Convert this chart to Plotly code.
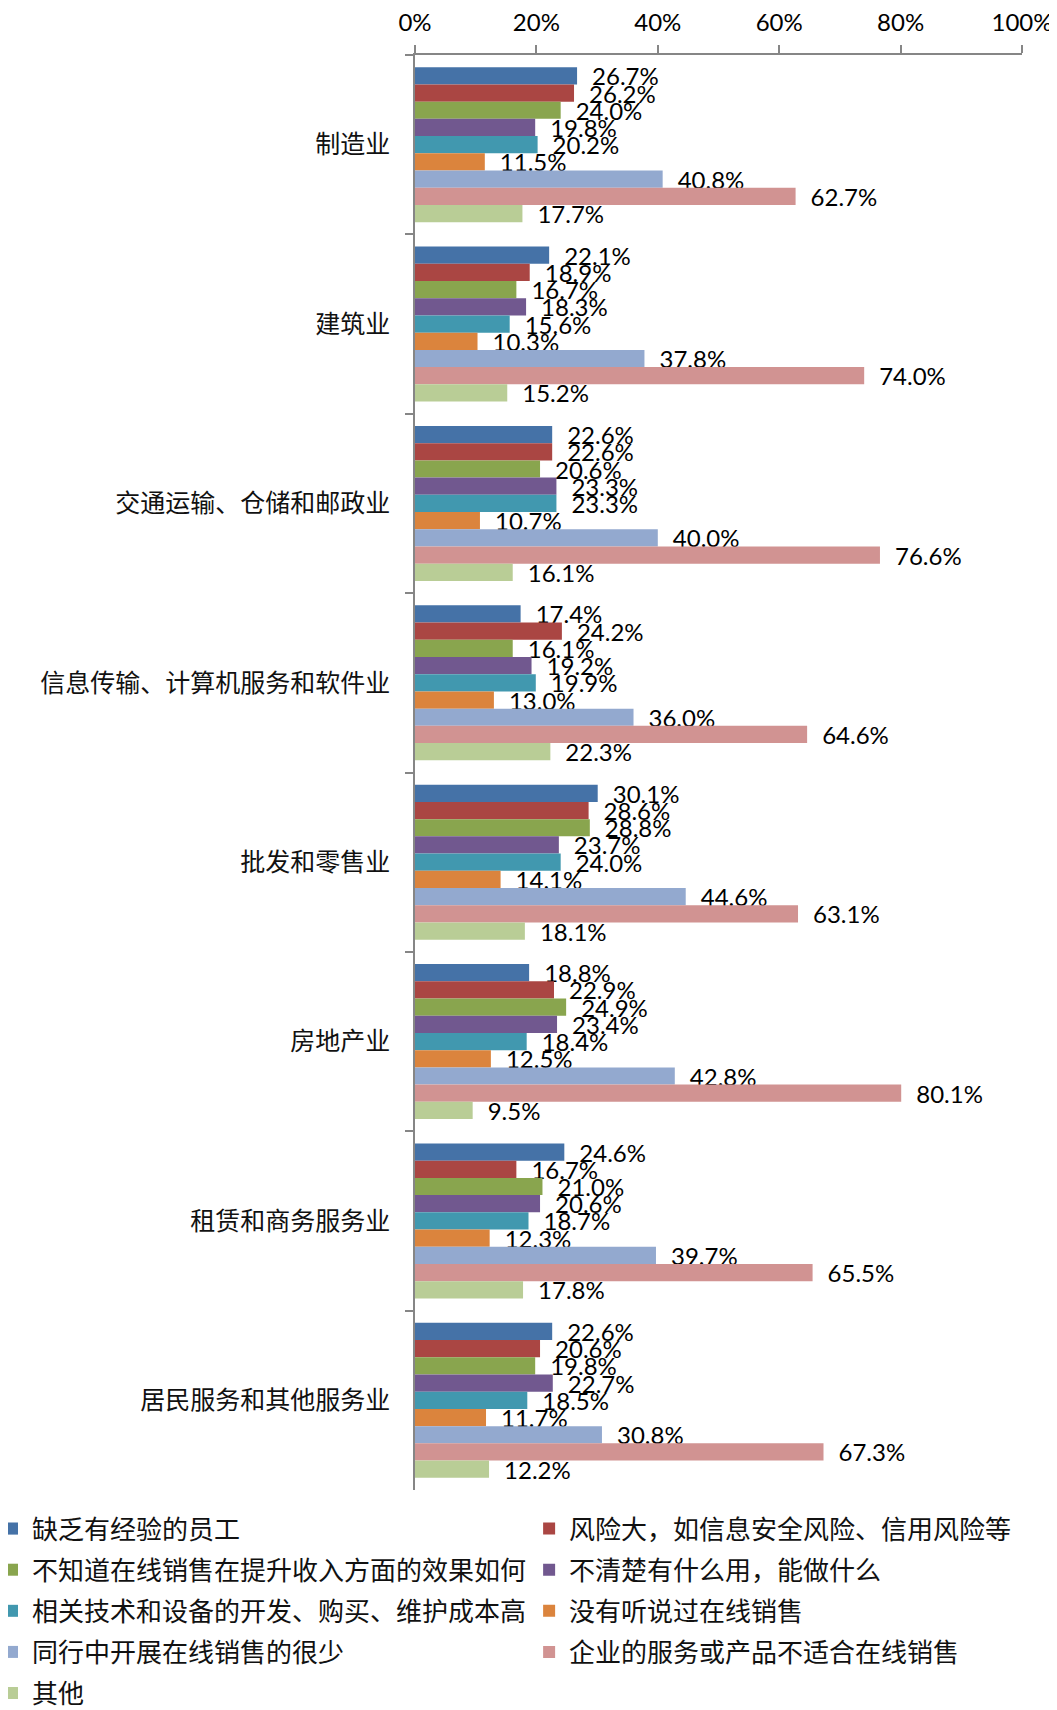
import plotly.graph_objects as go

categories = ["制造业", "建筑业", "交通运输、仓储和邮政业", "信息传输、计算机服务和软件业",
              "批发和零售业", "房地产业", "租赁和商务服务业", "居民服务和其他服务业"]

series_names = ["缺乏有经验的员工", "风险大，如信息安全风险、信用风险等",
                "不知道在线销售在提升收入方面的效果如何", "不清楚有什么用，能做什么",
                "相关技术和设备的开发、购买、维护成本高", "没有听说过在线销售",
                "同行中开展在线销售的很少", "企业的服务或产品不适合在线销售", "其他"]

s_staff = [26.7, 22.1, 22.6, 17.4, 30.1, 18.8, 24.6, 22.6]
s_risk = [26.2, 18.9, 22.6, 24.2, 28.6, 22.9, 16.7, 20.6]
s_effect = [24.0, 16.7, 20.6, 16.1, 28.8, 24.9, 21.0, 19.8]
s_usage = [19.8, 18.3, 23.3, 19.2, 23.7, 23.4, 20.6, 22.7]
s_cost = [20.2, 15.6, 23.3, 19.9, 24.0, 18.4, 18.7, 18.5]
s_never = [11.5, 10.3, 10.7, 13.0, 14.1, 12.5, 12.3, 11.7]
s_peers = [40.8, 37.8, 40.0, 36.0, 44.6, 42.8, 39.7, 30.8]
s_unfit = [62.7, 74.0, 76.6, 64.6, 63.1, 80.1, 65.5, 67.3]
s_other = [17.7, 15.2, 16.1, 22.3, 18.1, 9.5, 17.8, 12.2]

series_values = [s_staff, s_risk, s_effect, s_usage, s_cost, s_never, s_peers, s_unfit, s_other]

colors = ["#4572A7", "#AA4643", "#89A54E", "#71588F", "#4198AF",
          "#DB843D", "#93A9CF", "#D19392", "#B9CD96"]

x_ticks = [0, 20, 40, 60, 80, 100]

NUM_FONT = "Lato, Noto Sans CJK SC, sans-serif"
CJK_FONT = "Noto Sans CJK SC, sans-serif"

fig = go.Figure()
for i, (name, vals) in enumerate(zip(series_names, series_values)):
    fig.add_trace(go.Bar(
        y=categories, x=vals, name=name, orientation="h",
        marker=dict(color=colors[i], line=dict(width=0)),
        texttemplate="\u2002%{x:.1f}%", textposition="outside",
        textfont=dict(family=NUM_FONT, size=24, color="#000000"),
        constraintext="none", cliponaxis=False,
        legend="legend" if i % 2 == 0 else "legend2",
        legendgroup="g%d" % i,
        hoverinfo="x+name",
    ))

legend_common = dict(
    orientation="v", yanchor="top", xanchor="left",
    font=dict(family=CJK_FONT, size=26, color="#111111"),
    bgcolor="rgba(0,0,0,0)", traceorder="grouped", tracegroupgap=4.3,
    itemclick=False, itemdoubleclick=False, valign="middle",
)

fig.update_layout(
    width=1049, height=1702,
    paper_bgcolor="white", plot_bgcolor="white",
    margin=dict(l=407, r=35, t=47, b=220, autoexpand=False),
    barmode="group", bargap=0.136, bargroupgap=0,
    showlegend=True,
    legend=dict(x=-0.6969, y=-0.0106, **legend_common),
    legend2=dict(x=0.188, y=-0.0106, **legend_common),
    xaxis=dict(
        side="top", range=[0, 100], tickvals=x_ticks,
        ticktext=["%d%%" % v for v in x_ticks],
        showgrid=False, zeroline=False,
        showline=True, linecolor="#868686", linewidth=1.5,
        ticks="outside", ticklen=8, tickcolor="#868686", tickwidth=1.5,
        tickfont=dict(family=NUM_FONT, size=24, color="#000000"),
        ticklabelstandoff=5,
    ),
    yaxis=dict(
        autorange="reversed", showgrid=False, zeroline=False,
        showline=True, linecolor="#868686", linewidth=1.5,
        ticks="outside", ticklen=8, tickcolor="#868686", tickwidth=1.5,
        tickson="boundaries",
        tickfont=dict(family=CJK_FONT, size=25, color="#111111"),
        ticklabelstandoff=18,
    ),
)

fig.write_html("out.html")
